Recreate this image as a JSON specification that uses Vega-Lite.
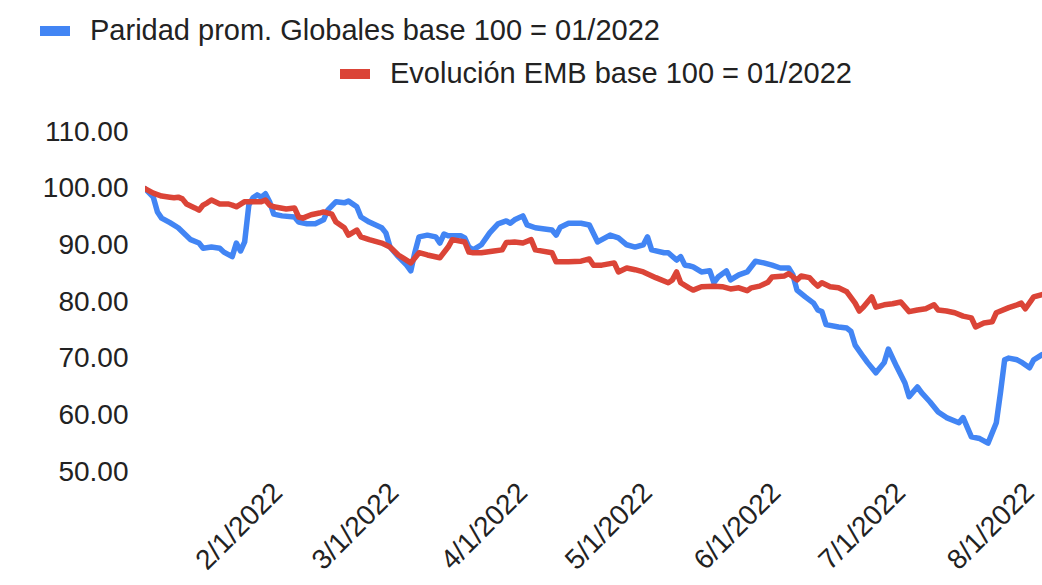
{
  "$schema": "https://vega.github.io/schema/vega-lite/v6.json",
  "autosize": {"type": "none"},
  "padding": {"left": 145, "top": 132, "right": 0, "bottom": 113},
  "width": 897,
  "height": 340,
  "background": "#ffffff",
  "config": {
    "view": {"stroke": null},
    "font": "Liberation Sans",
    "axis": {"labelFont": "Liberation Sans", "labelColor": "#222222", "labelFontSize": 28, "domain": false, "ticks": false, "grid": false, "title": null},
    "legend": {"labelFont": "Liberation Sans", "labelColor": "#222222", "labelFontSize": 29, "padding": 0, "symbolType": "stroke", "symbolStrokeWidth": 10, "symbolSize": 900, "labelOffset": 15, "orient": "none", "title": null, "labelLimit": 1000}
  },
  "datasets": {
    "paridad": [
      {"date": "2021-12-31", "v": 100.0},
      {"date": "2022-01-02", "v": 98.5},
      {"date": "2022-01-03", "v": 95.9},
      {"date": "2022-01-04", "v": 94.8},
      {"date": "2022-01-06", "v": 94.0},
      {"date": "2022-01-08", "v": 93.1},
      {"date": "2022-01-09", "v": 92.4},
      {"date": "2022-01-11", "v": 91.0},
      {"date": "2022-01-13", "v": 90.4},
      {"date": "2022-01-14", "v": 89.5},
      {"date": "2022-01-16", "v": 89.7},
      {"date": "2022-01-18", "v": 89.5},
      {"date": "2022-01-19", "v": 88.8},
      {"date": "2022-01-21", "v": 88.0},
      {"date": "2022-01-22", "v": 90.4},
      {"date": "2022-01-23", "v": 89.0},
      {"date": "2022-01-24", "v": 90.6},
      {"date": "2022-01-25", "v": 97.1},
      {"date": "2022-01-26", "v": 98.4},
      {"date": "2022-01-27", "v": 98.9},
      {"date": "2022-01-28", "v": 98.5},
      {"date": "2022-01-29", "v": 99.1},
      {"date": "2022-01-30", "v": 97.7},
      {"date": "2022-01-31", "v": 95.5},
      {"date": "2022-02-02", "v": 95.2},
      {"date": "2022-02-05", "v": 95.0},
      {"date": "2022-02-06", "v": 94.1},
      {"date": "2022-02-08", "v": 93.8},
      {"date": "2022-02-10", "v": 93.8},
      {"date": "2022-02-12", "v": 94.5},
      {"date": "2022-02-13", "v": 96.2},
      {"date": "2022-02-15", "v": 97.7},
      {"date": "2022-02-17", "v": 97.5},
      {"date": "2022-02-18", "v": 97.8},
      {"date": "2022-02-20", "v": 96.8},
      {"date": "2022-02-21", "v": 95.0},
      {"date": "2022-02-23", "v": 94.1},
      {"date": "2022-02-26", "v": 93.1},
      {"date": "2022-02-27", "v": 92.2},
      {"date": "2022-02-28", "v": 89.7},
      {"date": "2022-03-02", "v": 88.0},
      {"date": "2022-03-04", "v": 86.5},
      {"date": "2022-03-05", "v": 85.5},
      {"date": "2022-03-06", "v": 88.8},
      {"date": "2022-03-07", "v": 91.5},
      {"date": "2022-03-09", "v": 91.8},
      {"date": "2022-03-11", "v": 91.5},
      {"date": "2022-03-12", "v": 90.4},
      {"date": "2022-03-13", "v": 92.0},
      {"date": "2022-03-14", "v": 91.7},
      {"date": "2022-03-17", "v": 91.7},
      {"date": "2022-03-18", "v": 91.3},
      {"date": "2022-03-19", "v": 89.7},
      {"date": "2022-03-20", "v": 89.2},
      {"date": "2022-03-22", "v": 90.1},
      {"date": "2022-03-24", "v": 92.2},
      {"date": "2022-03-26", "v": 93.8},
      {"date": "2022-03-28", "v": 94.3},
      {"date": "2022-03-29", "v": 93.9},
      {"date": "2022-03-30", "v": 94.5},
      {"date": "2022-04-01", "v": 95.2},
      {"date": "2022-04-02", "v": 93.6},
      {"date": "2022-04-04", "v": 93.1},
      {"date": "2022-04-08", "v": 92.7},
      {"date": "2022-04-09", "v": 91.8},
      {"date": "2022-04-10", "v": 93.2},
      {"date": "2022-04-12", "v": 93.9},
      {"date": "2022-04-15", "v": 93.9},
      {"date": "2022-04-17", "v": 93.6},
      {"date": "2022-04-19", "v": 90.6},
      {"date": "2022-04-22", "v": 91.8},
      {"date": "2022-04-24", "v": 91.3},
      {"date": "2022-04-26", "v": 90.1},
      {"date": "2022-04-28", "v": 89.7},
      {"date": "2022-04-30", "v": 90.1},
      {"date": "2022-05-01", "v": 91.5},
      {"date": "2022-05-02", "v": 89.2},
      {"date": "2022-05-05", "v": 88.7},
      {"date": "2022-05-06", "v": 88.7},
      {"date": "2022-05-08", "v": 87.4},
      {"date": "2022-05-09", "v": 88.0},
      {"date": "2022-05-10", "v": 86.5},
      {"date": "2022-05-11", "v": 86.4},
      {"date": "2022-05-12", "v": 86.2},
      {"date": "2022-05-14", "v": 85.3},
      {"date": "2022-05-16", "v": 85.5},
      {"date": "2022-05-17", "v": 83.4},
      {"date": "2022-05-18", "v": 84.4},
      {"date": "2022-05-20", "v": 85.5},
      {"date": "2022-05-21", "v": 83.9},
      {"date": "2022-05-23", "v": 84.8},
      {"date": "2022-05-25", "v": 85.3},
      {"date": "2022-05-27", "v": 87.2},
      {"date": "2022-05-29", "v": 86.9},
      {"date": "2022-05-31", "v": 86.5},
      {"date": "2022-06-02", "v": 86.0},
      {"date": "2022-06-04", "v": 86.0},
      {"date": "2022-06-05", "v": 84.8},
      {"date": "2022-06-06", "v": 82.1},
      {"date": "2022-06-08", "v": 80.9},
      {"date": "2022-06-10", "v": 79.8},
      {"date": "2022-06-11", "v": 78.6},
      {"date": "2022-06-12", "v": 78.3},
      {"date": "2022-06-13", "v": 76.0},
      {"date": "2022-06-16", "v": 75.6},
      {"date": "2022-06-18", "v": 75.4},
      {"date": "2022-06-19", "v": 74.8},
      {"date": "2022-06-20", "v": 72.4},
      {"date": "2022-06-22", "v": 70.3},
      {"date": "2022-06-23", "v": 69.3},
      {"date": "2022-06-25", "v": 67.5},
      {"date": "2022-06-27", "v": 69.3},
      {"date": "2022-06-28", "v": 71.7},
      {"date": "2022-06-30", "v": 68.6},
      {"date": "2022-07-02", "v": 65.7},
      {"date": "2022-07-03", "v": 63.3},
      {"date": "2022-07-05", "v": 65.0},
      {"date": "2022-07-06", "v": 64.0},
      {"date": "2022-07-08", "v": 62.4},
      {"date": "2022-07-10", "v": 60.6},
      {"date": "2022-07-12", "v": 59.6},
      {"date": "2022-07-15", "v": 58.7},
      {"date": "2022-07-16", "v": 59.6},
      {"date": "2022-07-18", "v": 56.2},
      {"date": "2022-07-20", "v": 55.9},
      {"date": "2022-07-22", "v": 55.1},
      {"date": "2022-07-24", "v": 58.7},
      {"date": "2022-07-25", "v": 64.0},
      {"date": "2022-07-26", "v": 69.8},
      {"date": "2022-07-27", "v": 70.1},
      {"date": "2022-07-29", "v": 69.8},
      {"date": "2022-07-30", "v": 69.4},
      {"date": "2022-08-01", "v": 68.4},
      {"date": "2022-08-02", "v": 69.8},
      {"date": "2022-08-04", "v": 70.7}
    ],
    "emb": [
      {"date": "2021-12-31", "v": 100.0},
      {"date": "2022-01-02", "v": 99.2},
      {"date": "2022-01-04", "v": 98.7},
      {"date": "2022-01-06", "v": 98.5},
      {"date": "2022-01-07", "v": 98.4},
      {"date": "2022-01-08", "v": 98.5},
      {"date": "2022-01-09", "v": 98.2},
      {"date": "2022-01-10", "v": 97.3},
      {"date": "2022-01-12", "v": 96.6},
      {"date": "2022-01-13", "v": 96.2},
      {"date": "2022-01-14", "v": 97.1},
      {"date": "2022-01-15", "v": 97.5},
      {"date": "2022-01-16", "v": 98.0},
      {"date": "2022-01-18", "v": 97.3},
      {"date": "2022-01-20", "v": 97.3},
      {"date": "2022-01-21", "v": 97.1},
      {"date": "2022-01-22", "v": 96.8},
      {"date": "2022-01-24", "v": 97.7},
      {"date": "2022-01-26", "v": 97.7},
      {"date": "2022-01-28", "v": 97.7},
      {"date": "2022-01-29", "v": 98.0},
      {"date": "2022-01-30", "v": 97.1},
      {"date": "2022-01-31", "v": 96.8},
      {"date": "2022-02-03", "v": 96.4},
      {"date": "2022-02-05", "v": 96.6},
      {"date": "2022-02-06", "v": 95.0},
      {"date": "2022-02-07", "v": 94.8},
      {"date": "2022-02-09", "v": 95.4},
      {"date": "2022-02-11", "v": 95.7},
      {"date": "2022-02-12", "v": 95.9},
      {"date": "2022-02-14", "v": 95.5},
      {"date": "2022-02-15", "v": 94.1},
      {"date": "2022-02-17", "v": 93.1},
      {"date": "2022-02-18", "v": 91.8},
      {"date": "2022-02-20", "v": 92.7},
      {"date": "2022-02-21", "v": 91.5},
      {"date": "2022-02-23", "v": 91.0},
      {"date": "2022-02-26", "v": 90.4},
      {"date": "2022-02-28", "v": 89.7},
      {"date": "2022-03-02", "v": 88.3},
      {"date": "2022-03-05", "v": 86.9},
      {"date": "2022-03-07", "v": 88.7},
      {"date": "2022-03-09", "v": 88.3},
      {"date": "2022-03-12", "v": 87.8},
      {"date": "2022-03-14", "v": 89.7},
      {"date": "2022-03-15", "v": 91.0},
      {"date": "2022-03-18", "v": 90.6},
      {"date": "2022-03-19", "v": 88.8},
      {"date": "2022-03-20", "v": 88.7},
      {"date": "2022-03-22", "v": 88.7},
      {"date": "2022-03-25", "v": 89.0},
      {"date": "2022-03-27", "v": 89.2},
      {"date": "2022-03-28", "v": 90.5},
      {"date": "2022-03-30", "v": 90.6},
      {"date": "2022-04-01", "v": 90.4},
      {"date": "2022-04-03", "v": 91.0},
      {"date": "2022-04-04", "v": 89.2},
      {"date": "2022-04-08", "v": 88.7},
      {"date": "2022-04-09", "v": 87.1},
      {"date": "2022-04-12", "v": 87.1},
      {"date": "2022-04-15", "v": 87.2},
      {"date": "2022-04-17", "v": 87.6},
      {"date": "2022-04-18", "v": 86.5},
      {"date": "2022-04-20", "v": 86.5},
      {"date": "2022-04-23", "v": 86.9},
      {"date": "2022-04-24", "v": 85.3},
      {"date": "2022-04-26", "v": 86.0},
      {"date": "2022-04-28", "v": 85.7},
      {"date": "2022-04-30", "v": 85.3},
      {"date": "2022-05-03", "v": 84.3},
      {"date": "2022-05-06", "v": 83.4},
      {"date": "2022-05-07", "v": 83.9},
      {"date": "2022-05-08", "v": 85.3},
      {"date": "2022-05-09", "v": 83.4},
      {"date": "2022-05-11", "v": 82.5},
      {"date": "2022-05-12", "v": 82.1},
      {"date": "2022-05-14", "v": 82.7},
      {"date": "2022-05-17", "v": 82.8},
      {"date": "2022-05-19", "v": 82.7},
      {"date": "2022-05-21", "v": 82.3},
      {"date": "2022-05-23", "v": 82.5},
      {"date": "2022-05-25", "v": 82.0},
      {"date": "2022-05-26", "v": 82.5},
      {"date": "2022-05-28", "v": 82.8},
      {"date": "2022-05-30", "v": 83.5},
      {"date": "2022-05-31", "v": 84.4},
      {"date": "2022-06-03", "v": 84.6},
      {"date": "2022-06-04", "v": 85.0},
      {"date": "2022-06-06", "v": 83.9},
      {"date": "2022-06-07", "v": 84.6},
      {"date": "2022-06-09", "v": 84.3},
      {"date": "2022-06-10", "v": 83.5},
      {"date": "2022-06-11", "v": 82.8},
      {"date": "2022-06-12", "v": 83.4},
      {"date": "2022-06-14", "v": 82.7},
      {"date": "2022-06-16", "v": 82.5},
      {"date": "2022-06-18", "v": 81.8},
      {"date": "2022-06-20", "v": 79.8},
      {"date": "2022-06-21", "v": 78.4},
      {"date": "2022-06-22", "v": 79.1},
      {"date": "2022-06-24", "v": 80.9},
      {"date": "2022-06-25", "v": 79.1},
      {"date": "2022-06-27", "v": 79.5},
      {"date": "2022-06-29", "v": 79.7},
      {"date": "2022-07-01", "v": 80.0},
      {"date": "2022-07-03", "v": 78.3},
      {"date": "2022-07-05", "v": 78.6},
      {"date": "2022-07-07", "v": 78.8},
      {"date": "2022-07-09", "v": 79.5},
      {"date": "2022-07-10", "v": 78.6},
      {"date": "2022-07-12", "v": 78.4},
      {"date": "2022-07-14", "v": 78.1},
      {"date": "2022-07-16", "v": 77.5},
      {"date": "2022-07-18", "v": 77.2},
      {"date": "2022-07-19", "v": 75.6},
      {"date": "2022-07-21", "v": 76.3},
      {"date": "2022-07-23", "v": 76.5},
      {"date": "2022-07-24", "v": 78.1},
      {"date": "2022-07-27", "v": 79.0},
      {"date": "2022-07-29", "v": 79.5},
      {"date": "2022-07-30", "v": 79.8},
      {"date": "2022-07-31", "v": 78.8},
      {"date": "2022-08-02", "v": 80.9},
      {"date": "2022-08-04", "v": 81.3}
    ]
  },
  "encoding": {
    "x": {
      "field": "date",
      "type": "temporal",
      "scale": {"type": "utc", "domain": [{"year": 2021, "month": 12, "date": 31, "utc": true}, {"year": 2022, "month": 8, "date": 4, "utc": true}], "nice": false},
      "axis": {
        "values": [
          {"year": 2022, "month": 2, "date": 1, "utc": true},
          {"year": 2022, "month": 3, "date": 1, "utc": true},
          {"year": 2022, "month": 4, "date": 1, "utc": true},
          {"year": 2022, "month": 5, "date": 1, "utc": true},
          {"year": 2022, "month": 6, "date": 1, "utc": true},
          {"year": 2022, "month": 7, "date": 1, "utc": true},
          {"year": 2022, "month": 8, "date": 1, "utc": true}
        ],
        "labelExpr": "utcFormat(datum.value, '%-m/%-d/%Y')",
        "labelAngle": -45,
        "labelAlign": "right",
        "labelBaseline": "middle",
        "labelPadding": 16,
        "labelOverlap": false,
        "labelBound": false,
        "labelFlush": false
      }
    },
    "y": {
      "field": "v",
      "type": "quantitative",
      "scale": {"domain": [50, 110], "nice": false, "zero": false},
      "axis": {"values": [50, 60, 70, 80, 90, 100, 110], "format": ".2f", "labelPadding": 17}
    }
  },
  "layer": [
    {
      "data": {"name": "paridad"},
      "mark": {"type": "line", "strokeWidth": 5.5, "strokeJoin": "round", "strokeCap": "round", "clip": true},
      "encoding": {
        "color": {
          "datum": "Paridad prom. Globales base 100 = 01/2022",
          "type": "nominal",
          "scale": {"range": ["#4285F4"]},
          "legend": {"legendX": -110, "legendY": -121}
        }
      }
    },
    {
      "data": {"name": "emb"},
      "mark": {"type": "line", "strokeWidth": 5.5, "strokeJoin": "round", "strokeCap": "round", "clip": true},
      "encoding": {
        "color": {
          "datum": "Evolución EMB base 100 = 01/2022",
          "type": "nominal",
          "scale": {"range": ["#DB4437"]},
          "legend": {"legendX": 190, "legendY": -78}
        }
      }
    }
  ],
  "resolve": {"scale": {"color": "independent"}, "legend": {"color": "independent"}}
}
